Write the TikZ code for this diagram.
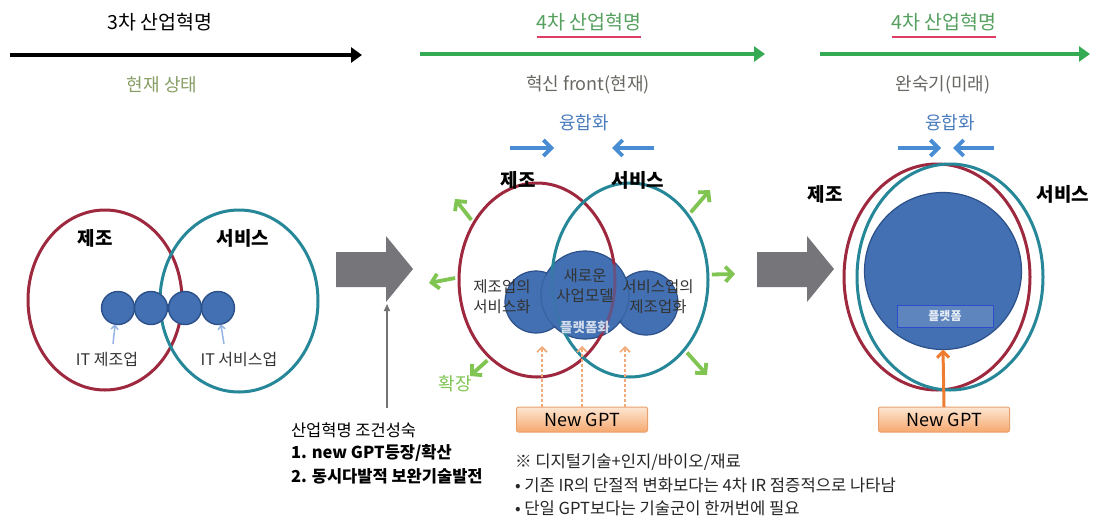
\documentclass[tikz,border=0pt]{standalone}
\usepackage{fontspec}
\setmainfont{Noto Sans CJK KR}
\usetikzlibrary{shapes.geometric,arrows.meta,calc}
\definecolor{redc}{RGB}{158,40,62}
\definecolor{tealc}{RGB}{38,135,152}
\definecolor{bluef}{RGB}{66,112,178}
\definecolor{blued}{RGB}{44,80,138}
\definecolor{fuseblue}{RGB}{72,140,212}
\definecolor{fusetxt}{RGB}{75,125,190}
\definecolor{tlgreen}{RGB}{52,170,82}
\definecolor{hgreen}{RGB}{85,160,95}
\definecolor{ulred}{RGB}{222,60,100}
\definecolor{expgreen}{RGB}{128,196,82}
\definecolor{olivec}{RGB}{135,158,100}
\definecolor{subgray}{RGB}{105,105,100}
\definecolor{blockgray}{RGB}{118,118,122}
\definecolor{orngline}{RGB}{238,125,50}
\definecolor{orngdash}{RGB}{242,170,120}
\definecolor{gpttop}{RGB}{253,230,210}
\definecolor{gptbot}{RGB}{246,168,110}
\definecolor{gptdraw}{RGB}{232,160,110}
\definecolor{itblue}{RGB}{150,180,228}
\begin{document}
\begin{tikzpicture}[x=1pt,y=-1pt,line join=round,
  every node/.style={inner sep=0pt,outer sep=0pt},
  hdtxt/.style={font=\fontsize{19.5}{22}\selectfont},
  subtxt/.style={font=\fontsize{18}{21}\selectfont},
  vennlbl/.style={font=\bfseries\fontsize{19}{22}\selectfont},
  smalltxt/.style={font=\fontsize{16}{19}\selectfont, text=black!80},
  cloudtxt/.style={font=\fontsize{15.5}{20}\selectfont, align=center, text=black!80},
  notetxt/.style={font=\fontsize{16.6}{19}\selectfont, text=black!85, anchor=west},
  condtxt/.style={font=\bfseries\fontsize{16.5}{19}\selectfont, anchor=west},
  redv/.style={ellipse, draw=redc, line width=3pt},
  tealv/.style={ellipse, draw=tealc, line width=3pt},
  bluedot/.style={circle, fill=bluef, draw=blued, line width=1.4pt, minimum size=33pt},
  tlblack/.style={line width=4pt, -{Triangle[length=11pt,width=15pt]}},
  tlgreen/.style={draw=tlgreen, line width=4pt, -{Triangle[length=11pt,width=15pt]}},
  fusearr/.style={draw=fuseblue, line width=3.8pt, -{Straight Barb[length=8pt,width=16pt]}},
  exparr/.style={draw=expgreen, line width=3.8pt, -{Straight Barb[length=7pt,width=15pt]}},
  gptbox/.style={draw=gptdraw, line width=1pt, rounded corners=2pt, top color=gpttop, bottom color=gptbot, minimum width=131pt, minimum height=25pt, font=\fontsize{18}{20}\selectfont},
  dasharr/.style={draw=orngdash, line width=1.6pt, dash pattern=on 3pt off 2pt, -{Straight Barb[length=5pt,width=10pt]}},
  itarr/.style={draw=itblue, line width=1.5pt, -{Straight Barb[length=4pt,width=7pt]}}
]
\useasboundingbox[fill=white] (0,0) rectangle (1097,517);

% ---------- timeline ----------
\coordinate (t1s) at (10,55);
\coordinate (t1e) at (362,55);
\draw[tlblack] (t1s) -- (t1e);
\node[hdtxt] (h1) at (160,22) {3차 산업혁명};
\node[subtxt, text=olivec] (s1) at (162,85) {현재 상태};

\coordinate (t2s) at (420,54);
\coordinate (t2e) at (765,54);
\draw[tlgreen] (t2s) -- (t2e);
\node[hdtxt, text=hgreen] (h2) at (589,22) {4차 산업혁명};
\draw[ulred, line width=1.5pt] ($(h2.south west)+(0,6)$) -- ($(h2.south east)+(0,6)$);
\node[subtxt, text=subgray] (s2) at (588,85) {혁신 front(현재)};

\coordinate (t3s) at (820,54);
\coordinate (t3e) at (1090,54);
\draw[tlgreen] (t3s) -- (t3e);
\node[hdtxt, text=hgreen] (h3) at (944,22) {4차 산업혁명};
\draw[ulred, line width=1.5pt] ($(h3.south west)+(0,6)$) -- ($(h3.south east)+(0,6)$);
\node[subtxt, text=subgray] (s3) at (943,85) {완숙기(미래)};

% ---------- left venn ----------
\node[redv, minimum width=154pt, minimum height=180pt] (redL) at (105,300) {};
\node[tealv, minimum width=158pt, minimum height=182pt] (tealL) at (239,301) {};
\node[vennlbl] (jjL) at (95,238) {제조};
\node[vennlbl] (svL) at (243,238) {서비스};
\node[bluedot] (c1) at (118,308) {};
\node[bluedot] (c2) at (151,308) {};
\node[bluedot] (c3) at (185,308) {};
\node[bluedot] (c4) at (218,308) {};
\node[smalltxt] (itm) at (107,360) {IT 제조업};
\node[smalltxt] (its) at (239,360) {IT 서비스업};
\coordinate (a1s) at (113,344);
\coordinate (a2s) at (224,344);
\draw[itarr] (a1s) -- (c1.-100);
\draw[itarr] (a2s) -- (c4.-80);

% ---------- block arrow 1 + condition ----------
\fill[blockgray] (336,252) -- (386,252) -- (386,236) -- (413,269) -- (386,302) -- (386,287) -- (336,287) -- cycle;
\coordinate (b1foot) at (387,304);
\coordinate (condtop) at (387,408);
\draw[black!55, line width=1.6pt, -{Triangle[length=7pt,width=6pt]}] (condtop) -- (b1foot);
\node[condtxt, font=\fontsize{16.5}{19}\selectfont] (cond1) at (291,430) {산업혁명 조건성숙};
\node[condtxt] (cond2) at (291,453) {1. new GPT등장/확산};
\node[condtxt] (cond3) at (291,476) {2. 동시다발적 보완기술발전};

% ---------- middle venn ----------
\node[circle, fill=bluef, draw=blued, line width=1.2pt, minimum size=62pt] (clL) at (536,302) {};
\node[circle, fill=bluef, draw=blued, line width=1.2pt, minimum size=64pt] (clR) at (646,303) {};
\node[circle, fill=bluef, draw=blued, line width=1.2pt, minimum size=88pt] (clM) at (585,295) {};
\node[redv, minimum width=156pt, minimum height=194pt] (redM) at (537,280) {};
\node[tealv, minimum width=156pt, minimum height=194pt] (tealM) at (630,280) {};
% redraw cloud faintly over outlines
\fill[bluef, opacity=0.6] (clM) circle (42pt);
\fill[bluef, opacity=0.6] (clL) circle (29pt);
\fill[bluef, opacity=0.6] (clR) circle (30pt);
\node[cloudtxt] (tL) at (502,297) {제조업의\\서비스화};
\node[cloudtxt] (tM) at (585,286) {새로운\\사업모델};
\node[cloudtxt] (tR) at (658,297) {서비스업의\\제조업화};
\node[font=\bfseries\fontsize{13.5}{15}\selectfont, text=white, opacity=0.75] (plat) at (585,327) {플랫폼화};

\node[vennlbl] (jjM) at (518,180) {제조};
\node[vennlbl] (svM) at (638,180) {서비스};
\node[font=\fontsize{18}{21}\selectfont, text=fusetxt] (fuM) at (584,123) {융합화};
\coordinate (fml) at (510,148);
\coordinate (fmlE) at (554,148);
\coordinate (fmr) at (654,148);
\coordinate (fmrE) at (612,148);
\draw[fusearr] (fml) -- (fmlE);
\draw[fusearr] (fmr) -- (fmrE);

% expansion arrows
\coordinate (e1) at (455,199);
\coordinate (e2) at (429,283);
\coordinate (e3) at (470,376);
\coordinate (e4) at (710,190);
\coordinate (e5) at (735,274);
\coordinate (e6) at (707,375);
\draw[exparr, shorten <=4pt] (redM.138) -- (e1);
\draw[exparr, shorten <=4pt] (redM.178) -- (e2);
\draw[exparr, shorten <=4pt] (redM.239) -- (e3);
\draw[exparr, shorten <=4pt] (tealM.48) -- (e4);
\draw[exparr, shorten <=4pt] (tealM.4) -- (e5);
\draw[exparr, shorten <=4pt] (tealM.308) -- (e6);
\node[font=\fontsize{18}{21}\selectfont, text=expgreen] (exp) at (455,384) {확장};

% New GPT middle
\node[gptbox] (gptM) at (582,419.5) {New GPT};
\coordinate (dL) at ($(gptM.north)+(-40,0)$);
\coordinate (dC) at (gptM.north);
\coordinate (dR) at ($(gptM.north)+(43,0)$);
\coordinate (dLe) at (542,346);
\coordinate (dCe) at (582,346);
\coordinate (dRe) at (625,346);
\draw[dasharr] (dL) -- (dLe);
\draw[dasharr] (dC) -- (dCe);
\draw[dasharr] (dR) -- (dRe);

% notes
\node[notetxt] (n1) at (515,462) {※ 디지털기술+인지/바이오/재료};
\node[notetxt] (n2) at (515,485) {• 기존 IR의 단절적 변화보다는 4차 IR 점증적으로 나타남};
\node[notetxt] (n3) at (515,508) {• 단일 GPT보다는 기술군이 한꺼번에 필요};

% ---------- block arrow 2 ----------
\fill[blockgray] (757,252) -- (807,252) -- (807,236) -- (834,269) -- (807,302) -- (807,287) -- (757,287) -- cycle;

% ---------- right panel ----------
\node[redv, minimum width=186pt, minimum height=226pt] (redR) at (937,277) {};
\node[tealv, minimum width=186pt, minimum height=226pt] (tealR) at (950,277) {};
\node[circle, fill=bluef, draw=blued, line width=1.2pt, minimum size=157pt] (bigC) at (943,271) {};
\node[draw=blue!30!bluef, line width=1pt, fill=bluef!85!white, minimum width=96pt, minimum height=22pt,
      font=\bfseries\fontsize{12}{14}\selectfont, text=white!85!bluef] (platR) at (945,316) {플랫폼};
\node[vennlbl] (jjR) at (825,194) {제조};
\node[vennlbl] (svR) at (1063,194) {서비스};
\node[font=\fontsize{18}{21}\selectfont, text=fusetxt] (fuR) at (950,123) {융합화};
\coordinate (frl) at (898,148);
\coordinate (frlE) at (941,148);
\coordinate (frr) at (994,148);
\coordinate (frrE) at (953,148);
\draw[fusearr] (frl) -- (frlE);
\draw[fusearr] (frr) -- (frrE);

\node[gptbox] (gptR) at (944,419.5) {New GPT};
\draw[draw=orngline, line width=3pt, -{Straight Barb[length=6pt,width=12pt]}] (gptR.north) -- (bigC.south);
\end{tikzpicture}
\end{document}
